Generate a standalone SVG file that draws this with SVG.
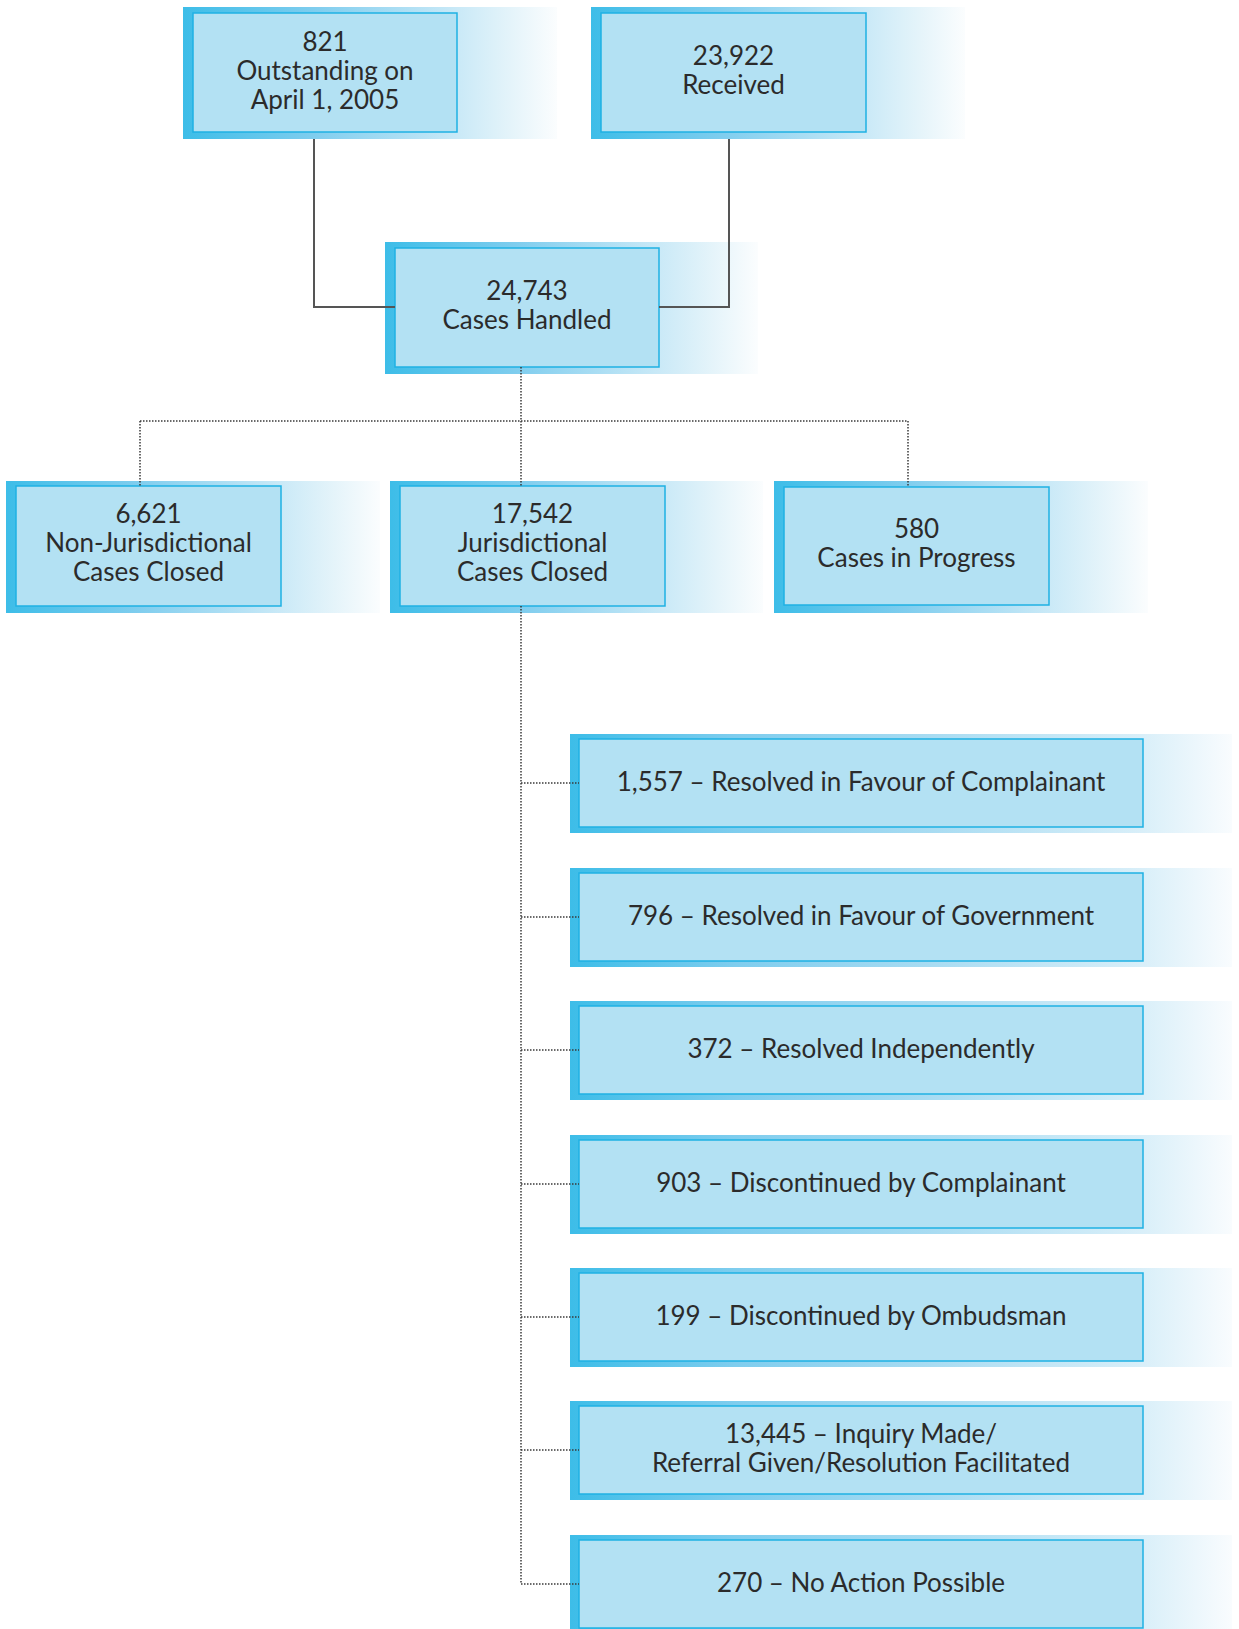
<svg xmlns="http://www.w3.org/2000/svg" width="1239" height="1629" viewBox="0 0 1239 1629">
<style>
.band{stroke:none}
.box{fill:#b3e1f3;stroke:#1fb1e3;stroke-width:1.5}
.t{font-family:Lato,"Open Sans","Liberation Sans",sans-serif;font-size:26px;fill:#2b2b2b;text-anchor:middle}
.solid{fill:none;stroke:#555;stroke-width:2}
.dot{fill:none;stroke:#3a3a3a;stroke-width:1.5;stroke-dasharray:1.5 1.5}
</style>
<defs>
<linearGradient id="gs" x1="0" y1="0" x2="1" y2="0">
<stop offset="0" stop-color="#3dbde8"/>
<stop offset="0.35" stop-color="#7fcdee"/>
<stop offset="0.73" stop-color="#c9e9f7"/>
<stop offset="0.88" stop-color="#e5f4fa"/>
<stop offset="1" stop-color="#fbfdfe"/>
</linearGradient>
<linearGradient id="gl" x1="0" y1="0" x2="1" y2="0">
<stop offset="0" stop-color="#3dbde8"/>
<stop offset="0.25" stop-color="#7fcdee"/>
<stop offset="0.55" stop-color="#a9dcf2"/>
<stop offset="0.865" stop-color="#d9eff9"/>
<stop offset="1" stop-color="#f9fcfe"/>
</linearGradient>
</defs>
<g id="n-outstanding">
<rect class="band" x="183" y="7" width="374" height="132" fill="url(#gs)"/>
<rect class="box" x="193" y="13" width="264" height="119"/>
<text class="t" x="325" y="51">821</text>
<text class="t" x="325" y="80">Outstanding on</text>
<text class="t" x="325" y="109">April 1, 2005</text>
</g>
<g id="n-received">
<rect class="band" x="591" y="7" width="374" height="132" fill="url(#gs)"/>
<rect class="box" x="601" y="13" width="265" height="119"/>
<text class="t" x="733.5" y="65">23,922</text>
<text class="t" x="733.5" y="94">Received</text>
</g>
<g id="n-handled">
<rect class="band" x="385" y="242" width="373" height="132" fill="url(#gs)"/>
<rect class="box" x="395" y="248" width="264" height="119"/>
<text class="t" x="527" y="300">24,743</text>
<text class="t" x="527" y="329">Cases Handled</text>
</g>
<g id="n-nonjur">
<rect class="band" x="6" y="481" width="374" height="132" fill="url(#gs)"/>
<rect class="box" x="16" y="486" width="265" height="120"/>
<text class="t" x="148.5" y="523">6,621</text>
<text class="t" x="148.5" y="552">Non-Jurisdictional</text>
<text class="t" x="148.5" y="581">Cases Closed</text>
</g>
<g id="n-jur">
<rect class="band" x="390" y="481" width="373" height="132" fill="url(#gs)"/>
<rect class="box" x="400" y="486" width="265" height="120"/>
<text class="t" x="532.5" y="523">17,542</text>
<text class="t" x="532.5" y="552">Jurisdictional</text>
<text class="t" x="532.5" y="581">Cases Closed</text>
</g>
<g id="n-progress">
<rect class="band" x="774" y="481" width="374" height="132" fill="url(#gs)"/>
<rect class="box" x="784" y="487" width="265" height="118"/>
<text class="t" x="916.5" y="538">580</text>
<text class="t" x="916.5" y="567">Cases in Progress</text>
</g>
<g id="n-complainant">
<rect class="band" x="570" y="734" width="662" height="99" fill="url(#gl)"/>
<rect class="box" x="579" y="739" width="564" height="88"/>
<text class="t" x="861" y="791">1,557 – Resolved in Favour of Complainant</text>
</g>
<g id="n-government">
<rect class="band" x="570" y="868" width="662" height="99" fill="url(#gl)"/>
<rect class="box" x="579" y="873" width="564" height="88"/>
<text class="t" x="861" y="925">796 – Resolved in Favour of Government</text>
</g>
<g id="n-independently">
<rect class="band" x="570" y="1001" width="662" height="99" fill="url(#gl)"/>
<rect class="box" x="579" y="1006" width="564" height="88"/>
<text class="t" x="861" y="1058">372 – Resolved Independently</text>
</g>
<g id="n-disc-complainant">
<rect class="band" x="570" y="1135" width="662" height="99" fill="url(#gl)"/>
<rect class="box" x="579" y="1140" width="564" height="88"/>
<text class="t" x="861" y="1192">903 – Discontinued by Complainant</text>
</g>
<g id="n-disc-ombudsman">
<rect class="band" x="570" y="1268" width="662" height="99" fill="url(#gl)"/>
<rect class="box" x="579" y="1273" width="564" height="88"/>
<text class="t" x="861" y="1325">199 – Discontinued by Ombudsman</text>
</g>
<g id="n-inquiry">
<rect class="band" x="570" y="1401" width="662" height="99" fill="url(#gl)"/>
<rect class="box" x="579" y="1406" width="564" height="88"/>
<text class="t" x="861" y="1443">13,445 – Inquiry Made/</text>
<text class="t" x="861" y="1472">Referral Given/Resolution Facilitated</text>
</g>
<g id="n-noaction">
<rect class="band" x="570" y="1535" width="662" height="99" fill="url(#gl)"/>
<rect class="box" x="579" y="1540" width="564" height="88"/>
<text class="t" x="861" y="1592">270 – No Action Possible</text>
</g>
<g id="connectors">
<path class="solid" d="M314 139 V307 H395"/>
<path class="solid" d="M729 139 V307 H659"/>
<path class="dot" d="M521 367 V421"/>
<path class="dot" d="M140 421 H908"/>
<path class="dot" d="M140 421 V486"/>
<path class="dot" d="M521 421 V486"/>
<path class="dot" d="M908 421 V487"/>
<path class="dot" d="M521 606 V1584"/>
<path class="dot" d="M521 783 H579"/>
<path class="dot" d="M521 917 H579"/>
<path class="dot" d="M521 1050 H579"/>
<path class="dot" d="M521 1184 H579"/>
<path class="dot" d="M521 1317 H579"/>
<path class="dot" d="M521 1450 H579"/>
<path class="dot" d="M521 1584 H579"/>
</g>
</svg>
